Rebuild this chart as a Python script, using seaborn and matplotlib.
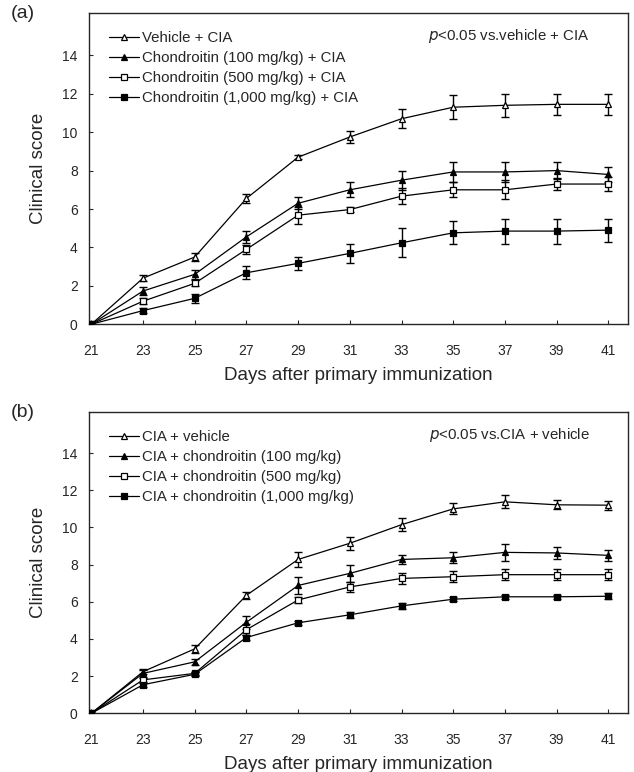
import numpy as np
import pandas as pd
import matplotlib
matplotlib.use("Agg")
import matplotlib.pyplot as plt
import seaborn as sns

# 데이터
days = [21, 23, 25, 27, 29, 31, 33, 35, 37, 39, 41]

labels_a = ["Vehicle + CIA", "Chondroitin (100 mg/kg) + CIA",
            "Chondroitin (500 mg/kg) + CIA", "Chondroitin (1,000 mg/kg) + CIA"]
veh_a = [0, 2.4, 3.5, 6.55, 8.7, 9.75, 10.7, 11.3, 11.4, 11.45, 11.45]
c100_a = [0, 1.73, 2.6, 4.55, 6.3, 7.0, 7.5, 7.93, 7.93, 8.0, 7.8]
c500_a = [0, 1.2, 2.13, 3.9, 5.68, 5.97, 6.67, 7.0, 7.0, 7.3, 7.3]
c1000_a = [0, 0.71, 1.35, 2.68, 3.17, 3.69, 4.24, 4.76, 4.85, 4.85, 4.9]
veh_a_err = [0, 0.15, 0.2, 0.25, 0.12, 0.3, 0.5, 0.63, 0.6, 0.56, 0.56]
c100_a_err = [0, 0.2, 0.25, 0.3, 0.3, 0.4, 0.5, 0.5, 0.5, 0.45, 0.4]
c500_a_err = [0, 0.15, 0.15, 0.25, 0.45, 0.12, 0.4, 0.4, 0.5, 0.3, 0.35]
c1000_a_err = [0, 0.12, 0.25, 0.35, 0.35, 0.5, 0.75, 0.6, 0.65, 0.65, 0.6]

labels_b = ["CIA + vehicle", "CIA + chondroitin (100 mg/kg)",
            "CIA + chondroitin (500 mg/kg)", "CIA + chondroitin (1,000 mg/kg)"]
veh_b = [0, 2.24, 3.47, 6.35, 8.28, 9.15, 10.15, 11.0, 11.38, 11.22, 11.2]
c100_b = [0, 2.15, 2.77, 4.9, 6.88, 7.53, 8.28, 8.37, 8.66, 8.63, 8.5]
c500_b = [0, 1.8, 2.15, 4.5, 6.1, 6.8, 7.26, 7.35, 7.46, 7.46, 7.46]
c1000_b = [0, 1.54, 2.1, 4.08, 4.87, 5.3, 5.78, 6.14, 6.27, 6.27, 6.3]
veh_b_err = [0, 0.15, 0.2, 0.2, 0.4, 0.35, 0.35, 0.3, 0.35, 0.25, 0.25]
c100_b_err = [0, 0.2, 0.15, 0.35, 0.45, 0.45, 0.25, 0.3, 0.45, 0.3, 0.3]
c500_b_err = [0, 0.1, 0.1, 0.3, 0.15, 0.25, 0.3, 0.3, 0.3, 0.3, 0.3]
c1000_b_err = [0, 0.1, 0.1, 0.15, 0.1, 0.15, 0.15, 0.1, 0.1, 0.1, 0.15]

sns.set_style("ticks")
plt.rcParams['font.family'] = ['Liberation Sans', 'DejaVu Sans']

# 마커 스타일: 빈 삼각형, 채운 삼각형, 빈 사각형, 채운 사각형
marker_list = ["^", "^", "s", "s"]
face_list = ["white", "black", "white", "black"]


def draw_panel(ax, series, errs, labels, ptext, tag):
    for vals, err, lab, mk, fc in zip(series, errs, labels, marker_list, face_list):
        df = pd.DataFrame({"day": days, "score": vals})
        ax.errorbar(df["day"], df["score"], yerr=err, fmt="none", ecolor="black",
                    elinewidth=1.0, capsize=3, capthick=1.0, zorder=2)
        sns.lineplot(data=df, x="day", y="score", ax=ax, color="black", lw=0.9,
                     marker=mk, markersize=5, markerfacecolor=fc,
                     markeredgecolor="black", markeredgewidth=0.9, label=lab,
                     errorbar=None, zorder=3)
    ax.set_xlim(20.9, 41.75)
    ax.set_ylim(0, 16.2)
    ax.set_xticks(days)
    ax.set_yticks(range(0, 15, 2))
    ax.tick_params(direction="in", length=3, width=0.8, labelsize=10, pad=8)
    ax.tick_params(axis="x", pad=14)
    for sp in ax.spines.values():
        sp.set_linewidth(1.0)
        sp.set_visible(True)
    ax.set_xlabel("Days after primary immunization", fontsize=13.5, labelpad=7)
    ax.set_ylabel("Clinical score", fontsize=13.5, labelpad=11)
    ax.legend(loc="upper left", bbox_to_anchor=(0.02, 0.97), frameon=False,
              fontsize=10.8, handlelength=2.0, handletextpad=0.2,
              labelspacing=0.4, borderaxespad=0.2)
    ax.text(0.78, 0.925, ptext, transform=ax.transAxes, fontsize=10.8,
            ha="center", va="center")
    ax.text(-0.145, 1.0, tag, transform=ax.transAxes, fontsize=14,
            ha="left", va="center")


fig = plt.figure(figsize=(6.34, 7.72), dpi=100)
ax_a = fig.add_axes([0.140, 0.580, 0.850, 0.403])
ax_b = fig.add_axes([0.140, 0.076, 0.850, 0.390])

draw_panel(ax_a, [veh_a, c100_a, c500_a, c1000_a],
           [veh_a_err, c100_a_err, c500_a_err, c1000_a_err], labels_a,
           r"$\it{p}$<0.05 vs.vehicle + CIA", "(a)")
draw_panel(ax_b, [veh_b, c100_b, c500_b, c1000_b],
           [veh_b_err, c100_b_err, c500_b_err, c1000_b_err], labels_b,
           r"$\it{p}$<0.05 vs.CIA + vehicle", "(b)")

fig.savefig("out.png", dpi=100)
